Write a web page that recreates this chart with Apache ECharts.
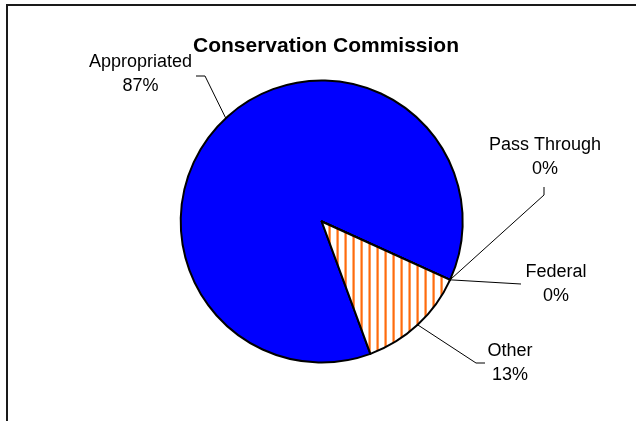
<!DOCTYPE html>
<html>
<head>
<meta charset="utf-8">
<script src="https://cdn.jsdelivr.net/npm/echarts@6/dist/echarts.min.js"></script>
<style>html,body{margin:0;padding:0;background:#fff}#c{width:636px;height:421px}</style>
</head>
<body>
<div id="c"></div>
<script>
var categories = ['Appropriated', 'Pass Through', 'Federal', 'Other'];
var values = [87.4, 0, 0, 12.6];
var titleText = 'Conservation Commission';

// label placement (layout only)
var labelPos = [
  {x: 140.5, y: 74,  bend: [205, 76],  end: [196, 76]},
  {x: 545,   y: 157, bend: [544, 195], end: [544, 187]},
  {x: 556,   y: 284, bend: [521, 284], end: [521, 284]},
  {x: 510,   y: 363, bend: [476, 363], end: [485, 363]}
];

function stripes() {
  var c = document.createElement('canvas');
  c.width = 8; c.height = 8;
  var g = c.getContext('2d');
  g.fillStyle = '#ffffff'; g.fillRect(0, 0, 8, 8);
  g.fillStyle = '#ffb27a'; g.fillRect(0, 0, 1, 8);
  g.fillStyle = '#ff6a10'; g.fillRect(1, 0, 1, 8);
  g.fillStyle = '#ff9a55'; g.fillRect(2, 0, 1, 8);
  return c;
}

var colors = ['#0000ff', '#9999ff', '#993366', {image: stripes(), repeat: 'repeat'}];

var chart = echarts.init(document.getElementById('c'), null, {renderer: 'canvas'});
chart.setOption({
  animation: false,
  backgroundColor: '#ffffff',
  title: {
    text: titleText,
    left: 321, top: 31, textAlign: 'center',
    textStyle: {fontFamily: 'Liberation Sans, Arial', fontSize: 21, fontWeight: 'bold', color: '#000'}
  },
  graphic: [{
    type: 'rect', shape: {x: 7, y: 5, width: 700, height: 500},
    style: {fill: 'none', stroke: '#1a1a1a', lineWidth: 2}, z: 100
  }],
  series: [{
    type: 'pie',
    center: [321.7, 221.5],
    radius: 141,
    startAngle: -69.8,
    clockwise: true,
    avoidLabelOverlap: false,
    data: categories.map(function (n, i) {
      return {name: n, value: values[i], itemStyle: {color: colors[i]}};
    }),
    itemStyle: {borderColor: '#000', borderWidth: 2},
    emphasis: {disabled: true},
    label: {
      show: true, position: 'outside',
      fontFamily: 'Liberation Sans, Arial', fontSize: 18, lineHeight: 24,
      color: '#000', align: 'center',
      formatter: function (p) { return p.name + '\n' + Math.round(p.percent) + '%'; }
    },
    labelLine: {show: true, length: 10, length2: 10, lineStyle: {color: '#000', width: 1}},
    labelLayout: function (params) {
      var L = labelPos[params.dataIndex];
      var p0 = params.labelLinePoints ? params.labelLinePoints[0] : L.bend;
      return {
        x: L.x, y: L.y, align: 'center', verticalAlign: 'middle',
        labelLinePoints: [p0, L.bend, L.end]
      };
    }
  }]
});
</script>
</body>
</html>
